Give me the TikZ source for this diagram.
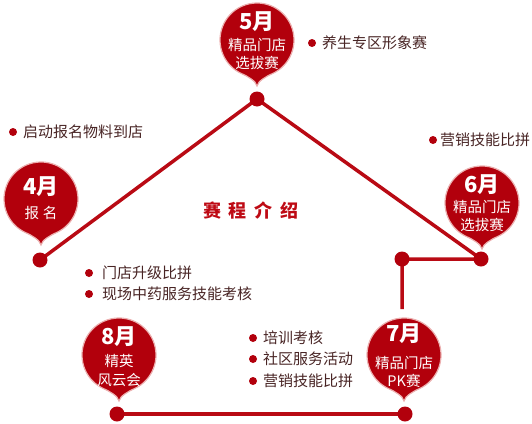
\documentclass[tikz,border=0pt]{standalone}
\usepackage{fontspec}
\setmainfont{Noto Sans CJK SC}
\usetikzlibrary{backgrounds}
\definecolor{pinred}{RGB}{178,0,12}
\definecolor{linered}{RGB}{185,10,20}
\definecolor{edgepink}{RGB}{236,176,176}
\definecolor{txt}{RGB}{72,36,36}
\definecolor{titlered}{RGB}{190,10,20}
\tikzset{
 monthpin/.pic={\path[fill=pinred,draw=edgepink,line width=1.2pt] (0,46) .. controls (1,41) and (9.6,36.2) .. (66:37) arc[start angle=66,end angle=-246,radius=37] .. controls (-9.6,36.2) and (-1,41) .. (0,46) -- cycle;},
 joint/.style={circle,fill=pinred,minimum size=15pt,inner sep=0pt},
 link/.style={draw=linered,line width=3.5pt},
 itemtext/.style={anchor=west,inner sep=0pt,text=txt,font=\fontsize{15}{15}\selectfont},
 bul/.style={circle,fill=pinred,minimum size=8pt,inner sep=0pt},
 montext/.style={text=white,font=\bfseries\fontsize{22}{22}\selectfont,inner sep=0pt},
 subtext/.style={text=white,font=\fontsize{14.5}{15}\selectfont,inner sep=0pt},
}
\begin{document}
\begin{tikzpicture}[x=1pt,y=-1pt]
\useasboundingbox (0,0) rectangle (532,423);
% pins
\pic at (257,40) {monthpin};
\pic at (41,199) {monthpin};
\pic at (482,203) {monthpin};
\pic at (404,355) {monthpin};
\pic at (119,355) {monthpin};
% pin texts
\node[montext] (m5) at (257,22) {5月};
\node[subtext] (m5a) at (257,45) {精品门店};
\node[subtext] (m5b) at (257,63) {选拔赛};
\node[montext] (m4) at (41,187) {4月};
\node[subtext] (m4a) at (41,213) {报\hspace{4pt}名};
\node[montext] (m6) at (482,185) {6月};
\node[subtext] (m6a) at (482,207) {精品门店};
\node[subtext] (m6b) at (482,225) {选拔赛};
\node[montext] (m7) at (404,334) {7月};
\node[subtext] (m7a) at (404,363) {精品门店};
\node[subtext] (m7b) at (404,381) {PK赛};
\node[montext] (m8) at (119,337) {8月};
\node[subtext] (m8a) at (119,361) {精英};
\node[subtext] (m8b) at (119,380) {风云会};
% dots
\node[joint] (d4) at (40,260) {};
\node[joint] (d5) at (257,99) {};
\node[joint] (d6) at (481,259) {};
\node[joint] (dj) at (402,259) {};
\node[joint] (d7) at (405,414) {};
\node[joint] (d8) at (117,414) {};
\coordinate (vend) at (402,309);
\begin{scope}[on background layer]
\draw[link] (d4.center) -- (d5.center) -- (d6.center) -- (dj.center) -- (vend);
\draw[link] (d8.center) -- (d7.center);
\end{scope}
% title
\node[text=titlered,font=\bfseries\fontsize{18}{18}\selectfont,inner sep=0pt] (title) at (251,211) {赛\hspace{8pt}程\hspace{8pt}介\hspace{8pt}绍};
% items
\node[bul] (b1) at (312,43) {};
\node[itemtext] (t1) at (322,43) {养生专区形象赛};
\node[bul] (b2) at (13,132) {};
\node[itemtext] (t2) at (23,132) {启动报名物料到店};
\node[bul] (b3) at (433,140) {};
\node[itemtext] (t3) at (440,140) {营销技能比拼};
\node[bul] (b4) at (89,273) {};
\node[itemtext] (t4) at (102,273) {门店升级比拼};
\node[bul] (b5) at (89,294) {};
\node[itemtext] (t5) at (102,294) {现场中药服务技能考核};
\node[bul] (b6) at (253,338) {};
\node[itemtext] (t6) at (263,338) {培训考核};
\node[bul] (b7) at (253,359) {};
\node[itemtext] (t7) at (263,359) {社区服务活动};
\node[bul] (b8) at (253,381) {};
\node[itemtext] (t8) at (263,381) {营销技能比拼};
\end{tikzpicture}
\end{document}
